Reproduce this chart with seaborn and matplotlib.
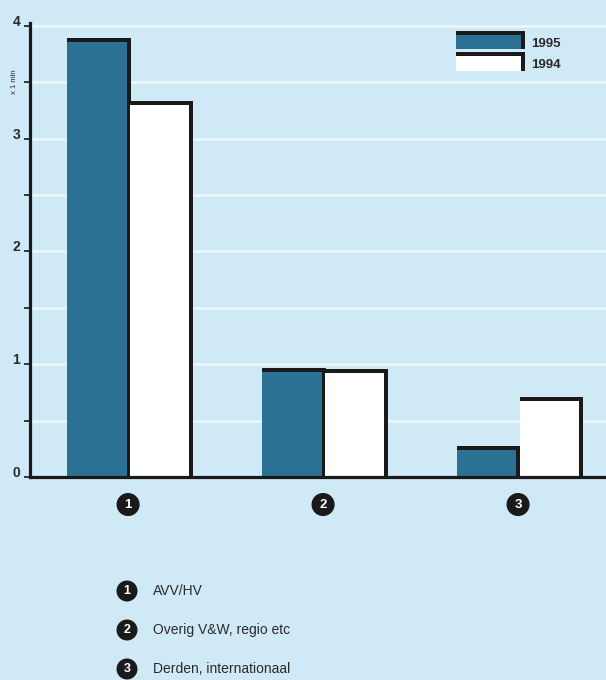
import matplotlib
matplotlib.use("Agg")
import matplotlib.pyplot as plt
import matplotlib.patheffects as pe
from matplotlib.patches import Patch
from matplotlib.ticker import MultipleLocator
from matplotlib.transforms import ScaledTranslation
import pandas as pd
import seaborn as sns

# --- data (x 1 mln) ---
categories = ["1", "2", "3"]
category_names = ["AVV/HV", "Overig V&W, regio etc", "Derden, internationaal"]
years = ["1995", "1994"]
values_1995 = [3.86, 0.93, 0.24]
values_1994 = [3.30, 0.92, 0.67]
y_tick_labels = ["0", "1", "2", "3", "4"]

df = pd.DataFrame({
    "categorie": categories * 2,
    "jaar": [years[0]] * len(categories) + [years[1]] * len(categories),
    "waarde": values_1995 + values_1994,
})

# --- style ---
BG = "#cfe9f6"
GRID = "#eef8fc"
TEAL = "#2b7194"
INK = "#1a1a1a"
TEXT = "#2a2a2a"

sns.set_style("white")
plt.rcParams["font.family"] = ["Liberation Sans", "DejaVu Sans"]

fig = plt.figure(figsize=(6.06, 6.80), dpi=100, facecolor=BG)
ax = fig.add_axes([30 / 606, 203 / 680, 576 / 606, 454.4 / 680])
ax.set_facecolor(BG)

sns.barplot(data=df, x="categorie", y="waarde", hue="jaar",
            hue_order=years, order=categories,
            palette={years[0]: TEAL, years[1]: "white"},
            width=0.64, gap=0.05, saturation=1, legend=False, ax=ax)

# dark rim along the top and right edge of every block
d = 2.9
rim = [pe.SimplePatchShadow(offset=(0, d), shadow_rgbFace=INK, alpha=1.0),
       pe.SimplePatchShadow(offset=(d, d), shadow_rgbFace=INK, alpha=1.0),
       pe.SimplePatchShadow(offset=(d, 0), shadow_rgbFace=INK, alpha=1.0),
       pe.Normal()]
for bar in ax.patches:
    bar.set_edgecolor("none")
    bar.set_linewidth(0)
    bar.set_path_effects(rim)
    bar.set_zorder(3)

ax.set_xlim(-0.503, 2.451)
ax.set_ylim(0, 4.03)

# axes lines
for side in ("top", "right"):
    ax.spines[side].set_visible(False)
for side in ("left", "bottom"):
    ax.spines[side].set_color(INK)
    ax.spines[side].set_linewidth(2.3)
    ax.spines[side].set_zorder(5)

# y ticks: labelled integers, unlabelled halves; white grid on both
ax.yaxis.set_major_locator(MultipleLocator(1))
ax.yaxis.set_minor_locator(MultipleLocator(0.5))
ax.set_yticks(range(len(y_tick_labels)))
ax.set_yticklabels(y_tick_labels)
ax.tick_params(axis="y", which="both", left=True, length=4, width=1.2,
               color=INK, pad=3, labelsize=10, labelcolor=TEXT)
for lab in ax.get_yticklabels():
    lab.set_fontweight("bold")
    lab.set_transform(lab.get_transform() +
                      ScaledTranslation(0, 4 / 72, fig.dpi_scale_trans))
ax.grid(True, axis="y", which="both", color=GRID, linewidth=1.8)
ax.grid(False, axis="x")
ax.set_axisbelow(True)

# x ticks: numbers in black discs
ax.tick_params(axis="x", bottom=False, pad=12, labelsize=9.5, labelcolor="white")
for lab in ax.get_xticklabels():
    lab.set_fontweight("bold")
    lab.set_bbox(dict(boxstyle="circle,pad=0.42", fc=INK, ec="none"))

ax.set_xlabel("")
ax.set_ylabel("")

# unit label
fig.text(15 / 606, 1 - 82 / 680, "x 1 mln", rotation=90, fontsize=5.5,
         color=TEXT, ha="center", va="center")

# year legend with rimmed swatches
handles = [Patch(facecolor=TEAL, edgecolor="none", label=years[0], path_effects=rim),
           Patch(facecolor="white", edgecolor="none", label=years[1], path_effects=rim)]
leg = ax.legend(handles=handles, loc="upper left",
                bbox_to_anchor=(456 / 606, 1 - 35 / 680),
                bbox_transform=fig.transFigure, frameon=False,
                borderpad=0, borderaxespad=0, handlelength=4.9,
                handleheight=1.3, handletextpad=0.8, labelspacing=0.5,
                prop={"weight": "bold", "size": 9.5})
for t in leg.get_texts():
    t.set_color(TEXT)

# category key below the chart
for i, (num, name) in enumerate(zip(categories, category_names)):
    y = 1 - (591 + 39 * i) / 680
    fig.text(127 / 606, y, num, color="white", fontsize=9, fontweight="bold",
             ha="center", va="center",
             bbox=dict(boxstyle="circle,pad=0.36", fc=INK, ec="none"))
    fig.text(153 / 606, y, name, color=TEXT, fontsize=10, ha="left", va="center")

fig.savefig("out.png", dpi=100, facecolor=BG)
